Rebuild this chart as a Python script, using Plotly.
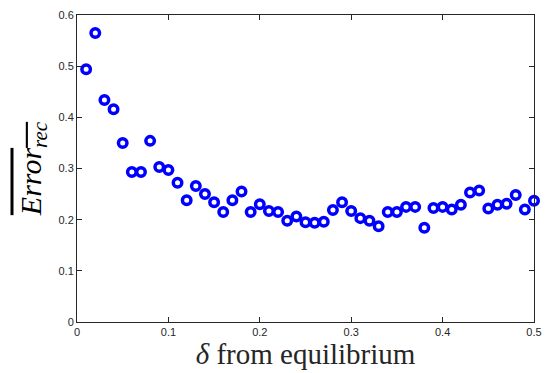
import plotly.graph_objects as go

delta = [round(0.01 * i, 2) for i in range(1, 51)]
error_rec = [0.494, 0.565, 0.434, 0.416, 0.350, 0.293, 0.293, 0.354, 0.303, 0.297,
             0.272, 0.238, 0.266, 0.250, 0.234, 0.215, 0.238, 0.255, 0.215, 0.230,
             0.217, 0.215, 0.198, 0.206, 0.195, 0.194, 0.196, 0.219, 0.234, 0.217,
             0.203, 0.198, 0.187, 0.215, 0.215, 0.225, 0.225, 0.184, 0.223, 0.225,
             0.220, 0.229, 0.253, 0.257, 0.222, 0.229, 0.231, 0.248, 0.220, 0.237]
x_ticks = [0, 0.1, 0.2, 0.3, 0.4, 0.5]
x_labels = ["0", "0.1", "0.2", "0.3", "0.4", "0.5"]
y_ticks = [0, 0.1, 0.2, 0.3, 0.4, 0.5, 0.6]
y_labels = ["0", "0.1", "0.2", "0.3", "0.4", "0.5", "0.6"]

serif = "Liberation Serif, Times New Roman, serif"

fig = go.Figure()
fig.add_trace(go.Scatter(
    x=delta, y=error_rec, mode="markers",
    marker=dict(symbol="circle-open", size=8.5, color="#0000FF",
                line=dict(width=3.5, color="#0000FF")),
    cliponaxis=False, showlegend=False))

axis_common = dict(showline=True, linecolor="#262626", linewidth=1, mirror="ticks",
                   ticks="inside", ticklen=5, tickcolor="#262626", showgrid=False,
                   zeroline=False, automargin=False,
                   tickfont=dict(family="Liberation Sans, Arial, sans-serif", size=11, color="#262626"))
fig.update_xaxes(range=[0, 0.5], tickvals=x_ticks, ticktext=x_labels,
                 title=dict(text="<i>δ</i> from equilibrium", standoff=5,
                            font=dict(family=serif, size=29, color="#262626")),
                 **axis_common)
fig.update_yaxes(range=[0, 0.6], tickvals=y_ticks, ticktext=y_labels,
                 title=dict(text="<span style='text-decoration:overline'><i>Error</i><sub><i>rec</i></sub></span>",
                            standoff=8,
                            font=dict(family=serif, size=30, color="#000000")),
                 **axis_common)
fig.update_layout(width=552, height=373, margin=dict(l=77, r=18, t=15, b=51),
                  paper_bgcolor="white", plot_bgcolor="white")
fig.write_html("out.html")
